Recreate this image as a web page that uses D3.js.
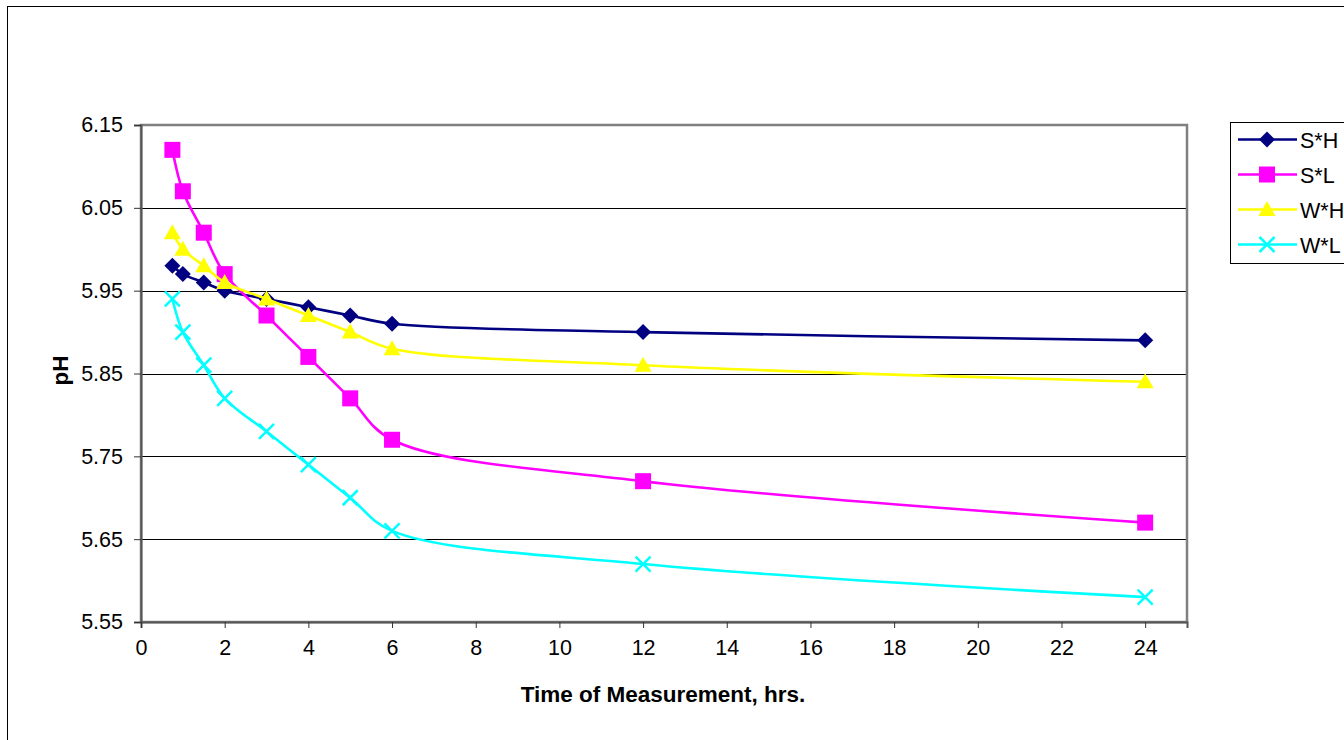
<!DOCTYPE html>
<html>
<head>
<meta charset="utf-8">
<script src="https://cdn.jsdelivr.net/npm/d3@7"></script>
<style>
  body { margin: 0; background: #fff; }
  svg { display: block; font-family: "Liberation Sans", Arial, sans-serif; }
</style>
</head>
<body>
<svg id="chart" width="1344" height="740"></svg>
<script>
// Measurement times (hours)
const hours = [0.75, 1, 1.5, 2, 3, 4, 5, 6, 12, 24];

// pH readings per treatment
const seriesNames = ["S*H", "S*L", "W*H", "W*L"];
const valuesSH = [5.98, 5.97, 5.96, 5.95, 5.94, 5.93, 5.92, 5.91, 5.90, 5.89];
const valuesSL = [6.12, 6.07, 6.02, 5.97, 5.92, 5.87, 5.82, 5.77, 5.72, 5.67];
const valuesWH = [6.02, 6.00, 5.98, 5.96, 5.94, 5.92, 5.90, 5.88, 5.86, 5.84];
const valuesWL = [5.94, 5.90, 5.86, 5.82, 5.78, 5.74, 5.70, 5.66, 5.62, 5.58];

const xTicks = [0, 2, 4, 6, 8, 10, 12, 14, 16, 18, 20, 22, 24];
const yTicks = [5.55, 5.65, 5.75, 5.85, 5.95, 6.05, 6.15];

const seriesList = [
  { name: seriesNames[0], values: valuesSH, color: "#000080", marker: "diamond" },
  { name: seriesNames[1], values: valuesSL, color: "#FF00FF", marker: "square" },
  { name: seriesNames[2], values: valuesWH, color: "#FFFF00", marker: "triangle" },
  { name: seriesNames[3], values: valuesWL, color: "#00FFFF", marker: "cross" }
];

const FONT = "'Liberation Sans', Arial, sans-serif";
const svg = d3.select("#chart");

// Outer chart frame
svg.append("rect")
  .attr("x", 7.5).attr("y", 6.5)
  .attr("width", 1400).attr("height", 800)
  .attr("fill", "none").attr("stroke", "#000").attr("stroke-width", 1);

const plot = { left: 141, top: 125, right: 1187, bottom: 622 };

const x = d3.scaleLinear().domain([0, 25]).range([plot.left, plot.right]);
const y = d3.scaleLinear().domain([5.55, 6.15]).range([plot.bottom, plot.top]);

// Horizontal gridlines
svg.append("g")
  .selectAll("line")
  .data(yTicks.slice(1, -1))
  .join("line")
  .attr("x1", plot.left).attr("x2", plot.right)
  .attr("y1", d => Math.round(y(d)) + 0.5).attr("y2", d => Math.round(y(d)) + 0.5)
  .attr("stroke", "#000").attr("stroke-width", 1);

// Plot area border
svg.append("rect")
  .attr("x", plot.left).attr("y", plot.top)
  .attr("width", plot.right - plot.left).attr("height", plot.bottom - plot.top)
  .attr("fill", "none").attr("stroke", "#808080").attr("stroke-width", 2.5);

// Y axis
const yAxis = d3.axisLeft(y).tickValues(yTicks).tickFormat(d3.format(".2f")).tickSize(7).tickPadding(11);
const gy = svg.append("g").attr("transform", `translate(${plot.left},0)`).call(yAxis);
gy.select(".domain").attr("stroke", "#555").attr("stroke-width", 2);
gy.selectAll(".tick line").attr("stroke", "#333");
gy.selectAll(".tick text").attr("font-size", 21.5).attr("fill", "#000").attr("font-family", FONT);

// X axis
const xAxis = d3.axisBottom(x).tickValues(xTicks).tickSize(6).tickPadding(12);
const gx = svg.append("g").attr("transform", `translate(0,${plot.bottom})`).call(xAxis);
gx.select(".domain").attr("stroke", "#555").attr("stroke-width", 2);
gx.selectAll(".tick line").attr("stroke", "#333");
gx.selectAll(".tick text").attr("font-size", 21.5).attr("fill", "#000").attr("font-family", FONT);

// Axis titles
svg.append("text")
  .attr("x", 663).attr("y", 702)
  .attr("text-anchor", "middle").attr("font-size", 22.5).attr("font-weight", "bold")
  .attr("font-family", FONT)
  .text("Time of Measurement, hrs.");

svg.append("text")
  .attr("transform", `translate(68,${(plot.top + plot.bottom) / 2 - 3}) rotate(-90)`)
  .attr("text-anchor", "middle").attr("font-size", 22.5).attr("font-weight", "bold")
  .attr("font-family", FONT)
  .text("pH");

// Marker drawing
function drawMarker(g, type, color) {
  if (type === "diamond") {
    g.append("path").attr("d", "M0,-8L8,0L0,8L-8,0Z").attr("fill", color);
  } else if (type === "square") {
    g.append("rect").attr("x", -8).attr("y", -8).attr("width", 16).attr("height", 16).attr("fill", color);
  } else if (type === "triangle") {
    g.append("path").attr("d", "M0,-8.5L8.5,6.5L-8.5,6.5Z").attr("fill", color);
  } else if (type === "cross") {
    g.append("path").attr("d", "M-7.5,-7.5L7.5,7.5M-7.5,7.5L7.5,-7.5").attr("stroke", color).attr("stroke-width", 2.5).attr("fill", "none");
  }
}

const line = d3.line()
  .x((d, i) => x(hours[i]))
  .y(d => y(d))
  .curve(d3.curveCatmullRom.alpha(0.5));

seriesList.forEach(s => {
  const g = svg.append("g");
  g.append("path")
    .attr("d", line(s.values))
    .attr("fill", "none").attr("stroke", s.color).attr("stroke-width", 2.6);
  s.values.forEach((v, i) => {
    const m = g.append("g").attr("transform", `translate(${x(hours[i])},${y(v)})`);
    drawMarker(m, s.marker, s.color);
  });
});

// Legend
const legend = svg.append("g");
legend.append("rect")
  .attr("x", 1230.5).attr("y", 122.5).attr("width", 200).attr("height", 141)
  .attr("fill", "#fff").attr("stroke", "#000").attr("stroke-width", 1);

seriesList.forEach((s, i) => {
  const ly = 139.5 + i * 35;
  legend.append("line")
    .attr("x1", 1238).attr("x2", 1297).attr("y1", ly).attr("y2", ly)
    .attr("stroke", s.color).attr("stroke-width", 2.6);
  const m = legend.append("g").attr("transform", `translate(1267,${ly})`);
  drawMarker(m, s.marker, s.color);
  legend.append("text")
    .attr("x", 1300).attr("y", ly + 8)
    .attr("font-size", 21.5).attr("fill", "#000").attr("font-family", FONT)
    .text(s.name);
});
</script>
</body>
</html>
